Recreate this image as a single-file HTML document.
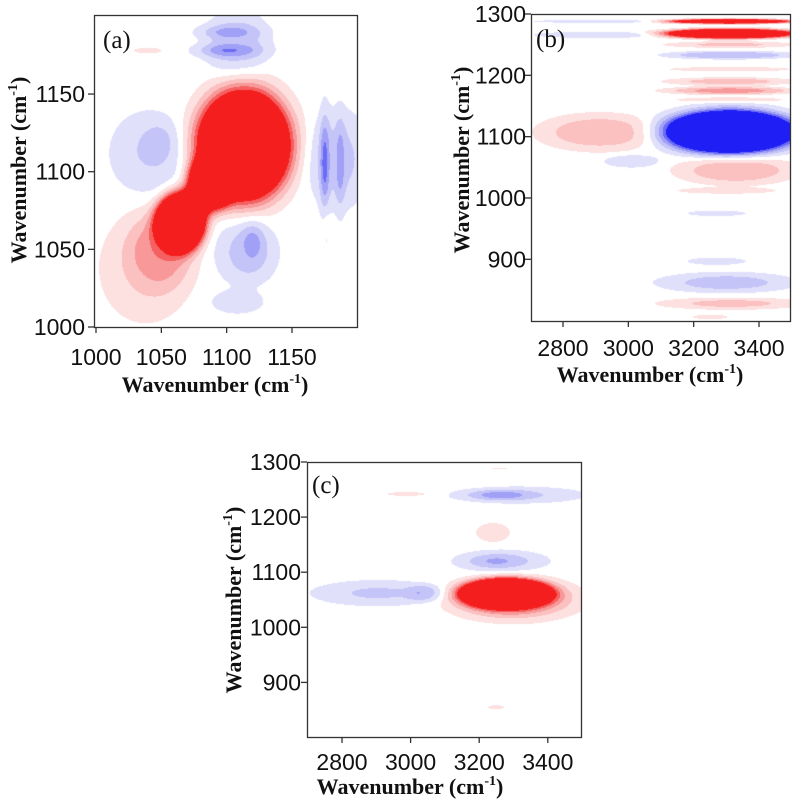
<!DOCTYPE html>
<html><head><meta charset="utf-8">
<style>
html,body{margin:0;padding:0;background:#fff;}
#root{position:relative;width:798px;height:800px;overflow:hidden;background:#fff;}
canvas{position:absolute;}
svg{position:absolute;left:0;top:0;}
</style></head>
<body>
<div id="root">
<canvas id="ca"></canvas>
<canvas id="cb"></canvas>
<canvas id="cc"></canvas>
<svg id="ov" width="798" height="800"></svg>
</div>
<script>
// ---- data: correlation peaks (wavenumber centres, widths, amplitude, shape exponent) ----
const aCx  = [1113,1065,1087,1038,1050,1040,1050,1108,1100,1100,1185,1175,1187,1115,1120,1108,1040,1176];
const aCy  = [1117,1068,1092,1038,1050,1112,1120,1182,1178,1190,1108,1105,1105,1048,1055,1016,1178,1060];
const aSx  = [27,14,13,28,20,23,8,20,17,16,19,2.5,2.5,19,6,16,12,2];
const aSy  = [27,14,13,28,20,21,8,17,3,3,25,22,20,17,9,6,2,12];
const aAmp = [3,3,2,0.28,0.4,-0.3,-0.15,-0.35,-0.4,-0.3,-0.35,-0.5,-0.3,-0.35,-0.3,-0.25,0.15,0.15];
const aP   = [3,3,3,3,3,3,2,3,2,2,3,2,2,3,2,3,2,2];

const bCx  = [3310,3310,3310,3310,3310,3310,3310,3310,3310,2912,3010,2905,2905,3330,3300,3270,3270,3300,3315,3250];
const bCy  = [1108,1288,1268,1250,1233,1210,1190,1175,1160,1107,1060,1288,1266,1045,1012,975,897,862,828,806];
const bSx  = [150,150,150,150,150,150,150,150,150,143,65,150,150,140,120,60,60,125,135,45];
const bSy  = [26,3,6,4,5,3,5,5,4,23,8,2,4,18,4,3,4,10,6,3];
const bAmp = [-3,2,2.6,0.35,-0.5,0.25,0.4,0.6,0.2,0.45,-0.3,-0.3,-0.3,0.45,0.25,-0.3,-0.3,-0.5,0.45,0.2];
const bP   = [3,3,3,3,3,3,3,3,3,3,3,3,3,3,3,2,2,2,2,2];

const cCx  = [3275,3300,3290,2905,3040,3265,3250,3240,3310,3260,2990,3250,3260];
const cCy  = [1062,1050,1055,1062,1062,1120,1120,1172,1240,1240,1242,855,1288];
const cSx  = [95,150,110,150,40,110,50,40,155,70,50,20,25];
const cSy  = [19,30,24,18,12,16,8,14,12,7,3,3,1.5];
const cAmp = [3,0.5,0.4,-0.32,-0.28,-0.3,-0.25,0.25,-0.3,-0.3,0.2,0.2,0.15];
const cP   = [3,3,3,3,3,3,2,3,3,3,2,2,2];

const levels = [0.1,0.3,0.5,0.7,0.9];
const posCol = [[253,224,224],[251,192,192],[248,152,152],[245,96,96],[244,30,30]];
const negCol = [[224,224,251],[196,196,248],[160,160,246],[107,107,245],[30,30,245]];

const xTicksA=[1000,1050,1100,1150], yTicksA=[1000,1050,1100,1150];
const xTicksBC=[2800,3000,3200,3400], yTicksBC=[900,1000,1100,1200,1300];

const panels=[
 {id:'a',canvas:'ca',left:94,top:15,w:263,h:312,
  sx:v=>96+(v-1000)*1.3067, sy:v=>327-(v-1000)*1.553,
  cx:aCx,cy:aCy,wx:aSx,wy:aSy,amp:aAmp,p:aP,xt:xTicksA,yt:yTicksA,
  lab:'(a)',labX:103,labY:48,xtY:357,xtitle:[215,392],ytitle:[18,170],ylabR:85},
 {id:'b',canvas:'cb',left:531,top:14,w:259,h:307,
  sx:v=>563+(v-2800)*0.3267, sy:v=>14+(1300-v)*0.6133,
  cx:bCx,cy:bCy,wx:bSx,wy:bSy,amp:bAmp,p:bP,xt:xTicksBC,yt:yTicksBC,
  lab:'(b)',labX:536,labY:47,xtY:348,xtitle:[650,382],ytitle:[461,160],ylabR:526},
 {id:'c',canvas:'cc',left:307,top:462,w:274,h:275,
  sx:v=>342+(v-2800)*0.343, sy:v=>462+(1300-v)*0.551,
  cx:cCx,cy:cCy,wx:cSx,wy:cSy,amp:cAmp,p:cP,xt:xTicksBC,yt:yTicksBC,
  lab:'(c)',labX:312,labY:493,xtY:762,xtitle:[410,794],ytitle:[233,600],ylabR:301}
];

function invX(P,px){ const a=P.sx(0),b=P.sx(1); return (px-a)/(b-a); }
function invY(P,py){ const a=P.sy(0),b=P.sy(1); return (py-a)/(b-a); }

panels.forEach(P=>{
  const cv=document.getElementById(P.canvas);
  cv.width=P.w; cv.height=P.h;
  cv.style.left=P.left+'px'; cv.style.top=P.top+'px';
  const ctx=cv.getContext('2d');
  const img=ctx.createImageData(P.w,P.h);
  for(let j=0;j<P.h;j++){
    const yv=invY(P,P.top+j+0.5);
    for(let i=0;i<P.w;i++){
      const xv=invX(P,P.left+i+0.5);
      let f=0;
      for(let k=0;k<P.cx.length;k++){
        const dx=(xv-P.cx[k])/P.wx[k], dy=(yv-P.cy[k])/P.wy[k];
        const q=dx*dx+dy*dy;
        if(q>60) continue;
        f+=P.amp[k]*Math.exp(-0.5*Math.pow(q,P.p[k]/2));
      }
      let col=[255,255,255];
      const a=Math.abs(f);
      for(let l=levels.length-1;l>=0;l--){ if(a>=levels[l]){ col=f>0?posCol[l]:negCol[l]; break; } }
      const o=(j*P.w+i)*4;
      img.data[o]=col[0];img.data[o+1]=col[1];img.data[o+2]=col[2];img.data[o+3]=255;
    }
  }
  ctx.putImageData(img,0,0);
});

const NS='http://www.w3.org/2000/svg';
const ov=document.getElementById('ov');
function mk(tag,attrs){const e=document.createElementNS(NS,tag);for(const k in attrs)e.setAttribute(k,attrs[k]);ov.appendChild(e);return e;}
const TICKF={'font-family':'Liberation Sans, sans-serif','font-size':'23px',fill:'#111'};
const TITLEF={'font-family':'Liberation Serif, serif','font-size':'22px','font-weight':'bold',fill:'#111'};

panels.forEach(P=>{
  const fr=mk('rect',{x:P.left+0.5,y:P.top+0.5,width:P.w,height:P.h,fill:'none',stroke:'#333','stroke-width':1.3});
  
  
  const bottom=P.top+P.h, left=P.left;
  P.xt.forEach(v=>{
    const x=P.sx(v);
    const t=mk('line',{x1:x,x2:x,y1:bottom,y2:bottom+6,stroke:'#333','stroke-width':1.3});
    
    
    const tx=mk('text',Object.assign({x:x,y:P.xtY+8,'text-anchor':'middle'},TICKF));
    tx.textContent=v;
    
    
  });
  P.yt.forEach(v=>{
    const y=P.sy(v);
    const t=mk('line',{x1:left-6,x2:left,y1:y,y2:y,stroke:'#333','stroke-width':1.3});
    
    
    const tx=mk('text',Object.assign({x:P.ylabR,y:y+8,'text-anchor':'end'},TICKF));
    tx.textContent=v;
    
    
  });
  const xt=mk('text',Object.assign({x:P.xtitle[0],y:P.xtitle[1],'text-anchor':'middle'},TITLEF));
  xt.innerHTML='Wavenumber (cm<tspan dy="-9" font-size="14">-1</tspan><tspan dy="9">)</tspan>';
  
  
  const yt=mk('text',Object.assign({x:0,y:0,'text-anchor':'middle',transform:'translate('+(P.ytitle[0]+8)+','+P.ytitle[1]+') rotate(-90)'},TITLEF));
  yt.innerHTML='Wavenumber (cm<tspan dy="-9" font-size="14">-1</tspan><tspan dy="9">)</tspan>';
  
  
  const lb=mk('text',{x:P.labX,y:P.labY,'font-family':'Liberation Serif, serif','font-size':'25px',fill:'#111'});
  lb.textContent=P.lab;
  
  
});
</script>
</body></html>
